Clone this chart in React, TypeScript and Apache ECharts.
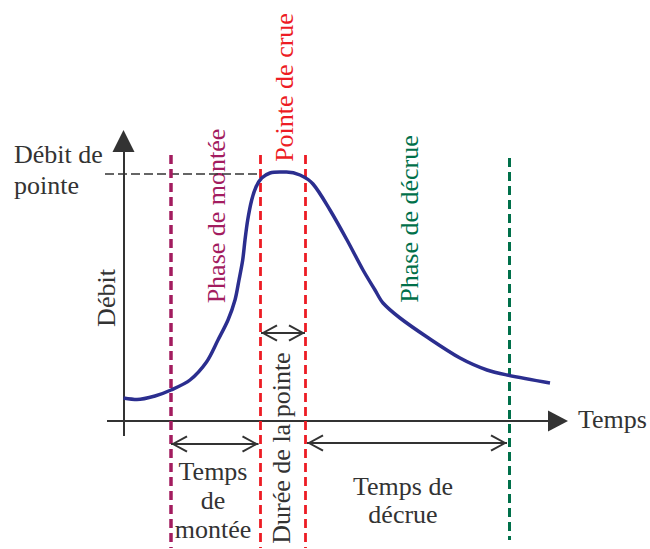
import React, { useEffect, useRef } from "react";
import * as echarts from "echarts";

// Hydrograph (time in arbitrary units, discharge in arbitrary units)
const TIME = [0, 1.35, 3.15, 4.75, 6.65, 8.3, 9.45, 10.45, 11.15, 11.55, 11.92, 12.15, 12.42, 12.82, 13.25, 13.82, 14.65, 15.65, 16.3, 17.65, 18.95, 20.65, 22.35, 23.95, 25.15, 25.95, 27.65, 30.35, 33.65, 36.35, 38.35, 42.65];
const DISCHARGE = [2.3, 2.15, 2.5, 3.1, 4.1, 5.9, 8.1, 10.1, 12.1, 14.1, 16.1, 18.1, 20.1, 22.1, 23.4, 24.3, 24.8, 24.9, 24.9, 24.6, 23.7, 21.1, 18.1, 15.1, 13.1, 11.8, 10.3, 8.4, 6.3, 5.1, 4.6, 3.8];

// start of rise, start of peak, end of peak, end of recession
const PHASE_BOUNDARIES = [4.75, 13.7, 18.15, 38.55];
const PEAK_DISCHARGE = 24.7;

const X_RANGE = [-12.35, 52.65];
const Y_RANGE = [-12.8, 42.1];

const AXIS_TITLES = ["Temps", "Débit"];
const PEAK_LABEL = "Débit de\npointe";
const PHASE_LABELS = ["Phase de montée", "Pointe de crue", "Phase de décrue"];
const DURATION_LABELS = ["Temps\nde\nmontée", "Durée de la pointe", "Temps de\ndécrue"];

const DARK = "#333333";
const PURPLE = "#a31c5f";
const RED = "#ed1c24";
const GREEN = "#00704a";
const BLUE = "#2b2e8f";
const FAMILY = "Liberation Serif";
const SIZE = 26;

const TRIANGLE = "path://M10,0 L20,20 L0,20 Z";
const CHEVRON =
  "path://M8.5,0 L17,15.5 L15.3,16.5 L8.5,3.8 L1.7,16.5 L0,15.5 Z M8.5,-16.5 L8.5,-16.5";

export default function App() {
  const ref = useRef<HTMLDivElement>(null);

  useEffect(() => {
    if (!ref.current) return;
    const chart = echarts.init(ref.current, null, { renderer: "svg" });
    const [tStart, tPeakA, tPeakB, tEnd] = PHASE_BOUNDARIES;
    const curve = TIME.map((t, i) => [t, DISCHARGE[i]]);

    const vLine = (t: number, top: number, bottom: number, color: string, width: number) => [
      { coord: [t, top], lineStyle: { color, width, type: [9, 5] } },
      { coord: [t, bottom] },
    ];
    const dArrow = (a: number, b: number, q: number) => [{ coord: [a, q] }, { coord: [b, q] }];

    const baseMarkLine = {
      silent: true,
      label: { show: false },
      emphasis: { disabled: true },
      animation: false,
    };

    const txt = (
      text: string,
      x: number,
      y: number,
      fill: string,
      opts: { rotate?: boolean; align?: string; va?: string; lh?: number } = {}
    ) => ({
      type: "text",
      x,
      y,
      rotation: opts.rotate ? Math.PI / 2 : 0,
      style: {
        text,
        fontSize: SIZE,
        fontFamily: FAMILY,
        fill,
        align: opts.align || "center",
        verticalAlign: opts.va || "middle",
        lineHeight: opts.lh,
      },
    });

    chart.setOption({
      animation: false,
      grid: { left: 0, right: 0, top: 0, bottom: 0 },
      xAxis: { type: "value", min: X_RANGE[0], max: X_RANGE[1], show: false },
      yAxis: { type: "value", min: Y_RANGE[0], max: Y_RANGE[1], show: false },
      series: [
        {
          type: "line",
          name: "axes",
          data: [],
          markLine: {
            ...baseMarkLine,
            symbol: ["none", TRIANGLE],
            lineStyle: { color: DARK, width: 2, type: "solid" },
            data: [
              [{ coord: [-1.65, 0] }, { coord: [43.45, 0], symbolSize: [21, 20] }],
              [{ coord: [0, -1.5] }, { coord: [0, 28.0], symbolSize: [22, 22] }],
            ],
          },
        },
        {
          type: "line",
          name: "peak level",
          data: [],
          markLine: {
            ...baseMarkLine,
            symbol: ["none", "none"],
            lineStyle: { color: DARK, width: 1.5, type: [9, 4] },
            data: [[{ coord: [-1.85, PEAK_DISCHARGE] }, { coord: [tPeakA, PEAK_DISCHARGE] }]],
          },
        },
        {
          type: "line",
          name: "phases",
          data: [],
          markLine: {
            ...baseMarkLine,
            symbol: ["none", "none"],
            data: [
              vLine(tStart, 26.6, -12.7, PURPLE, 3.5),
              vLine(tPeakA, 26.6, -12.7, RED, 2.8),
              vLine(tPeakB, 26.6, -12.7, RED, 2.8),
              vLine(tEnd, 26.3, -11.9, GREEN, 3),
            ],
          },
        },
        {
          type: "line",
          name: "durations",
          data: [],
          markLine: {
            ...baseMarkLine,
            symbol: [CHEVRON, CHEVRON],
            symbolSize: [17, 33],
            lineStyle: { color: DARK, width: 2, type: "solid" },
            data: [
              dArrow(tStart, tPeakA - 0.2, -2.3),
              dArrow(tPeakA + 0.05, tPeakB, 8.8),
              dArrow(tPeakB + 0.2, tEnd - 0.2, -2.2),
            ],
          },
        },
        {
          type: "line",
          name: "Débit",
          data: curve,
          smooth: 0.3,
          showSymbol: false,
          symbol: "none",
          lineStyle: { color: BLUE, width: 3.5 },
          silent: true,
          z: 5,
        },
      ],
      graphic: {
        elements: [
          txt(PEAK_LABEL, 14, 139, DARK, { align: "left", va: "top", lh: 31 }),
          txt(AXIS_TITLES[0], 578, 419, DARK, { align: "left" }),
          txt(AXIS_TITLES[1], 106.5, 298, DARK, { rotate: true }),
          txt(PHASE_LABELS[0], 216, 216, PURPLE, { rotate: true }),
          txt(PHASE_LABELS[1], 284, 87.5, RED, { rotate: true }),
          txt(PHASE_LABELS[2], 409, 219, GREEN, { rotate: true }),
          txt(DURATION_LABELS[0], 213, 456.5, DARK, { va: "top", lh: 29 }),
          txt(DURATION_LABELS[1], 281, 448, DARK, { rotate: true }),
          txt(DURATION_LABELS[2], 403, 472, DARK, { va: "top", lh: 28 }),
        ],
      },
    });

    return () => chart.dispose();
  }, []);

  return (
    <div
      ref={ref}
      style={{ position: "absolute", left: 0, top: 0, width: 650, height: 549, background: "#ffffff" }}
    />
  );
}
